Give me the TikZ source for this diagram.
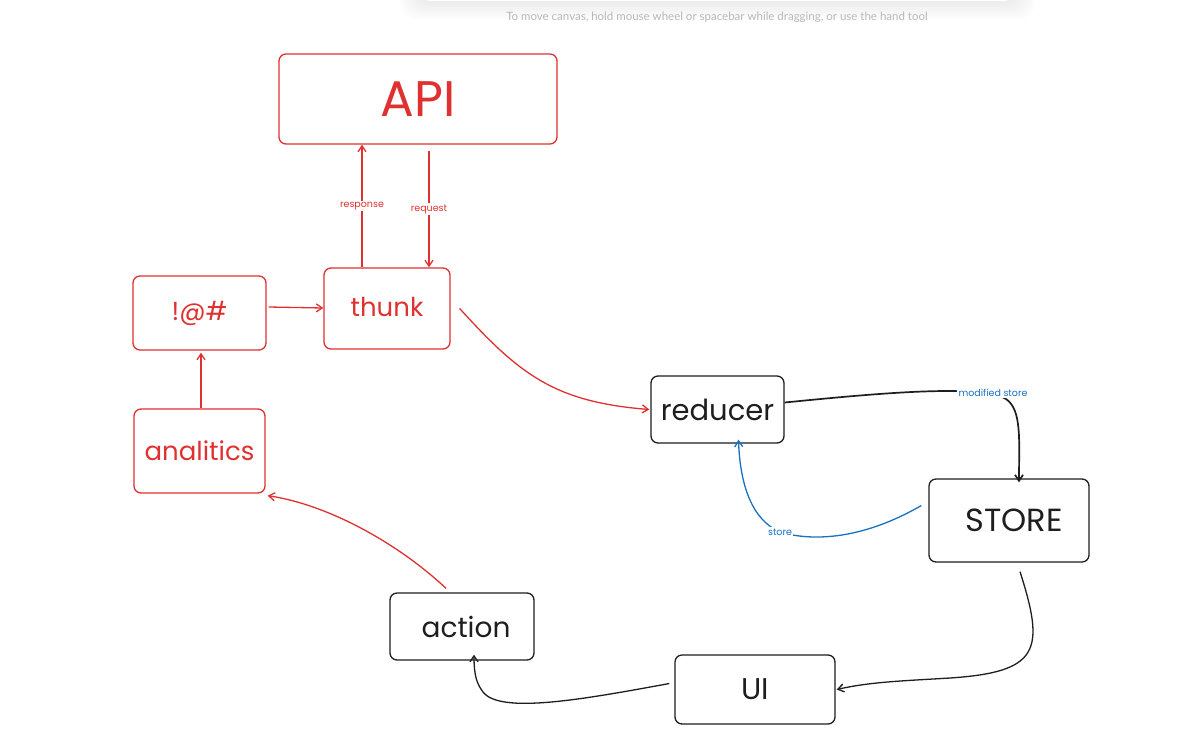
\documentclass[tikz,border=0pt]{standalone}
\usepackage{fontspec}
\setmainfont{Poppins}
\newfontfamily\hintfont{Lato}
\usetikzlibrary{arrows.meta}
\definecolor{exred}{HTML}{E03131}
\definecolor{exblack}{HTML}{1E1E1E}
\definecolor{exblue}{HTML}{1971C2}
\definecolor{hintgray}{HTML}{B8B8B8}
\tikzset{
  box/.style={draw, rounded corners=7pt, line width=1.3pt, inner sep=0pt},
  redbox/.style={box, draw=exred, text=exred},
  blackbox/.style={box, draw=exblack, text=exblack},
  conn/.style={line width=1.3pt, -{Straight Barb[length=6pt,width=8pt]}},
  elabel/.style={fill=white, inner sep=1.5pt, font=\fontsize{9.5}{10}\selectfont}
}
\begin{document}
\begin{tikzpicture}[x=1pt,y=-1pt]
\useasboundingbox (0,0) rectangle (1196,745);
\fill[white] (0,0) rectangle (1196,745);
% toolbar shadow (soft)
\foreach \i in {2,4,...,20}{
  \fill[black, opacity=0.006, rounded corners=16pt] (420-\i,-40) rectangle (1015+\i,\i);
}
\fill[white, rounded corners=10pt] (420,-40) rectangle (1015,1);
\node[text=hintgray, font=\hintfont\fontsize{11.5}{13}\selectfont] (hint) at (717,17) {To move canvas, hold mouse wheel or spacebar while dragging, or use the hand tool};

% nodes
\node[redbox, minimum width=278pt, minimum height=90pt, font=\fontsize{50}{54}\selectfont] (api) at (418,99) {API};
\node[redbox, minimum width=126pt, minimum height=81pt, font=\fontsize{26}{28}\selectfont] (thunk) at (387,308.5) {\raisebox{3pt}{thunk}};
\node[redbox, minimum width=133pt, minimum height=74pt, font=\fontsize{26}{28}\selectfont] (sym) at (199.5,313) {!@\#};
\node[redbox, minimum width=131pt, minimum height=84pt, font=\fontsize{26}{28}\selectfont] (anal) at (199.5,451) {\raisebox{-4pt}{analitics}};
\node[blackbox, minimum width=133pt, minimum height=67pt, font=\fontsize{29}{31}\selectfont] (red) at (717.5,409.5) {reducer};
\node[blackbox, minimum width=160pt, minimum height=83pt, font=\fontsize{32}{35}\selectfont] (store) at (1009,520.5) {\hspace{10pt}STORE};
\node[blackbox, minimum width=144pt, minimum height=67pt, font=\fontsize{28}{30}\selectfont] (action) at (462,626.5) {\hspace{8pt}action};
\node[blackbox, minimum width=160pt, minimum height=69pt, font=\fontsize{30}{32}\selectfont] (ui) at (755,689.5) {UI};

% red connectors
\draw[conn, exred] ([xshift=-25pt]thunk.north) -- ([xshift=-56pt]api.south) node[pos=0.5, elabel, text=exred] {response};
\draw[conn, exred] ([xshift=11pt, yshift=-6pt]api.south) -- ([xshift=42pt]thunk.north) node[pos=0.5, elabel, text=exred] {request};
\draw[conn, exred] ([xshift=2pt, yshift=6pt]sym.east) -- (thunk.west |- 0,308);
\draw[conn, exred] ([xshift=1.5pt]anal.north) -- ([xshift=1.5pt, yshift=-2pt]sym.south);
\draw[conn, exred] ([xshift=9pt]thunk.east) .. controls (520,375) and (555,402) .. ([xshift=-1pt]red.west);
\draw[conn, exred] ([xshift=-16pt, yshift=4pt]action.north) .. controls (400,545) and (330,505) .. ([xshift=2pt, yshift=-2pt]anal.south east);

% black connectors
\draw[conn, exblack, line width=1.7pt] ([yshift=7pt]red.east) .. controls (880,393) and (980,384) .. (1006,399) .. controls (1022,410) and (1019,440) .. ([xshift=10pt, yshift=-4pt]store.north);
\node[elabel, text=exblue] (msl) at (993,393) {modified store};
\draw[conn, exblack] ([xshift=11pt, yshift=-9pt]store.south) .. controls (1045,650) and (1040,672) .. (950,678) .. controls (900,681) and (870,682) .. ([xshift=1pt]ui.east);
\draw[conn, exblack] ([xshift=-5pt, yshift=6pt]ui.west) .. controls (580,700) and (500,714) .. (483,692) .. controls (477,684) and (474,676) .. ([xshift=12pt, yshift=6pt]action.south);

% blue connector
\draw[conn, exblue] ([xshift=-7pt, yshift=15pt]store.west) .. controls (860,541) and (810,541) .. (780,532) .. controls (752,520) and (740,485) .. ([xshift=21pt, yshift=4pt]red.south);
\node[elabel, text=exblue] (stl) at (780,532) {store};
\end{tikzpicture}
\end{document}
